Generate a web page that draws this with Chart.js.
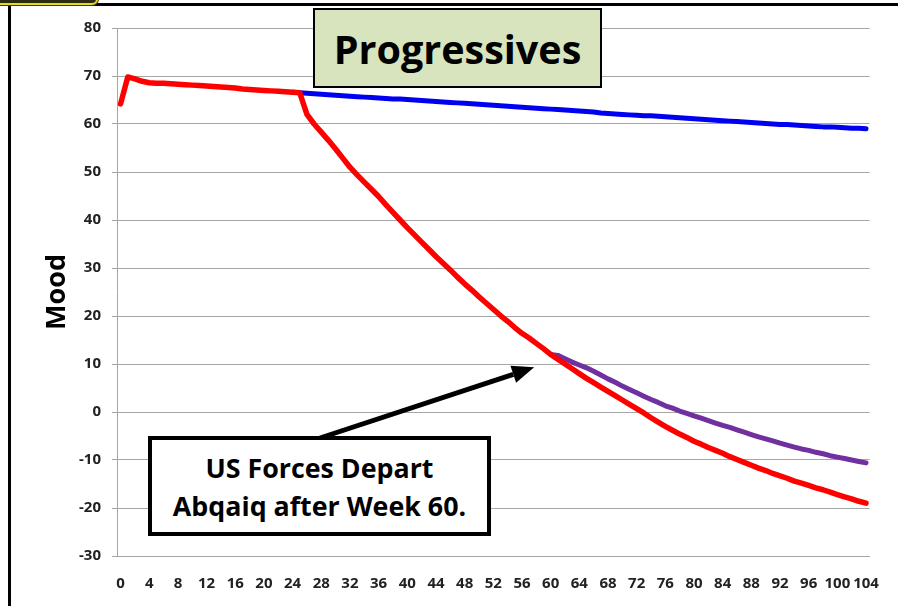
<!DOCTYPE html>
<html>
<head>
<meta charset="utf-8">
<script src="https://cdn.jsdelivr.net/npm/chart.js@4/dist/chart.umd.min.js"></script>
<style>
  html, body { margin: 0; padding: 0; background: #fff; }
  #wrap { position: relative; width: 898px; height: 606px; overflow: hidden; font-family: "Open Sans", Lato, sans-serif; }
  #frame { position: absolute; left: 8px; top: 3px; width: 1000px; height: 1000px; border-left: 3px solid #000; border-top: 3px solid #000; }
  #tab { position: absolute; left: -12px; top: -30px; width: 106px; height: 31px; background: #2b2b12; border: 2px solid #e6da1e; border-radius: 6px; box-shadow: 0 0 0 1px #3a3a20; }
  #chartBox { position: absolute; left: 0; top: 0; width: 898px; height: 606px; }
  #title { position: absolute; left: 313px; top: 8px; width: 285px; height: 75px; background: #d7e4bd; border: 2px solid #000;
           display: flex; align-items: center; justify-content: center; font-weight: 700; font-size: 39.5px; color: #000; padding-top: 1px; box-sizing: content-box; }
  #note { position: absolute; left: 148px; top: 436px; width: 335px; height: 90px; padding-top: 2px; background: #fff; border: 4px solid #000;
          display: flex; flex-direction: column; align-items: center; justify-content: center;
          font-weight: 700; font-size: 26.8px; line-height: 38px; color: #000; text-align: center; }
</style>
</head>
<body>
<div id="wrap">
  <div id="frame"></div>
  <div id="tab"></div>
  <div id="chartBox"><canvas id="c"></canvas></div>
  <div id="title">Progressives</div>
  <div id="note"><div>US Forces Depart</div><div>Abqaiq after Week 60.</div></div>
</div>
<script>
// Weeks 0..104
const weeks = Array.from({ length: 105 }, (_, i) => String(i));

// Mood with US forces staying (blue), weeks 0..104
const moodStay = [
  null, null, null, null, null, null, null, null, null, null,
  null, null, null, null, null, null, null, null, null, null,
  null, null, null, null, 66.6, 66.5, 66.4, 66.3, 66.2, 66.1,
  66.0, 65.9, 65.8, 65.7, 65.6, 65.5, 65.4, 65.3, 65.2, 65.2,
  65.1, 65.0, 64.9, 64.8, 64.7, 64.6, 64.5, 64.4, 64.3, 64.2,
  64.1, 64.0, 63.9, 63.8, 63.7, 63.6, 63.5, 63.4, 63.3, 63.2,
  63.1, 63.0, 62.9, 62.8, 62.7, 62.6, 62.5, 62.3, 62.2, 62.1,
  62.0, 61.9, 61.8, 61.7, 61.7, 61.6, 61.5, 61.4, 61.3, 61.2,
  61.1, 61.0, 60.9, 60.8, 60.7, 60.6, 60.5, 60.4, 60.3, 60.2,
  60.1, 60.0, 59.9, 59.9, 59.8, 59.7, 59.6, 59.5, 59.4, 59.4,
  59.3, 59.2, 59.1, 59.1, 59.0
];

// Mood after the Abqaiq departure (purple), weeks 0..104
const moodDepart = [
  null, null, null, null, null, null, null, null, null, null,
  null, null, null, null, null, null, null, null, null, null,
  null, null, null, null, null, null, null, null, null, null,
  null, null, null, null, null, null, null, null, null, null,
  null, null, null, null, null, null, null, null, null, null,
  null, null, null, null, null, null, null, null, null, null,
  12.0, 11.8, 11.1, 10.4, 9.8, 9.2, 8.5, 7.7, 6.9, 6.2,
  5.4, 4.7, 4.0, 3.3, 2.6, 2.0, 1.3, 0.8, 0.2, -0.3,
  -0.8, -1.3, -1.8, -2.3, -2.8, -3.2, -3.7, -4.2, -4.7, -5.2,
  -5.6, -6.0, -6.5, -6.9, -7.3, -7.7, -8.0, -8.4, -8.7, -9.1,
  -9.4, -9.7, -10.0, -10.3, -10.6
];

// Mood with the week-25 shock (red), weeks 0..104
const moodShock = [
  64.2, 69.8, 69.4, 68.9, 68.6, 68.5, 68.5, 68.4, 68.3, 68.2,
  68.1, 68.0, 67.9, 67.8, 67.7, 67.6, 67.5, 67.3, 67.2, 67.1,
  67.0, 66.9, 66.8, 66.7, 66.6, 66.5, 62.0, 60.0, 58.3, 56.6,
  54.8, 52.9, 51.0, 49.4, 47.9, 46.4, 44.9, 43.2, 41.6, 40.0,
  38.4, 36.9, 35.4, 33.9, 32.4, 31.0, 29.6, 28.1, 26.7, 25.4,
  24.0, 22.7, 21.4, 20.1, 18.9, 17.6, 16.4, 15.4, 14.3, 13.2,
  12.0, 11.0, 10.0, 9.0, 8.0, 7.0, 6.1, 5.2, 4.3, 3.4,
  2.5, 1.6, 0.7, -0.2, -1.2, -2.1, -3.0, -3.8, -4.6, -5.3,
  -6.1, -6.7, -7.4, -8.0, -8.6, -9.3, -9.9, -10.5, -11.1, -11.7,
  -12.2, -12.8, -13.3, -13.8, -14.4, -14.8, -15.3, -15.8, -16.2, -16.7,
  -17.2, -17.7, -18.1, -18.6, -19.0
];

// Where the callout arrow points: [week, mood]
const arrowTip = [57.7, 9.3];

const tickFont = { family: 'Open Sans', weight: 'bold', size: 15 };
const gridGray = '#a6a6a6';

const calloutArrow = {
  id: 'calloutArrow',
  afterDraw(chart) {
    const { ctx, scales: { x, y } } = chart;
    const x0 = 320, y0 = 438;
    const x1 = x.getPixelForValue(arrowTip[0]);
    const y1 = y.getPixelForValue(arrowTip[1]);
    const ang = Math.atan2(y1 - y0, x1 - x0);
    const headLen = 22, headHalf = 9;
    const bx = x1 - headLen * Math.cos(ang), by = y1 - headLen * Math.sin(ang);
    ctx.save();
    ctx.strokeStyle = '#000';
    ctx.fillStyle = '#000';
    ctx.lineWidth = 5;
    ctx.beginPath();
    ctx.moveTo(x0, y0);
    ctx.lineTo(bx, by);
    ctx.stroke();
    ctx.beginPath();
    ctx.moveTo(x1, y1);
    ctx.lineTo(bx + headHalf * Math.sin(ang), by - headHalf * Math.cos(ang));
    ctx.lineTo(bx - headHalf * Math.sin(ang), by + headHalf * Math.cos(ang));
    ctx.closePath();
    ctx.fill();
    ctx.restore();
  }
};

new Chart(document.getElementById('c'), {
  type: 'line',
  data: {
    labels: weeks,
    datasets: [
      { data: moodShock, borderColor: '#ff0000', borderWidth: 5.5 },
      { data: moodDepart, borderColor: '#7030a0', borderWidth: 5 },
      { data: moodStay, borderColor: '#0000f0', borderWidth: 5 }
    ]
  },
  options: {
    responsive: true,
    maintainAspectRatio: false,
    animation: false,
    layout: { padding: { left: 0, right: 24, top: 28, bottom: 0 } },
    elements: {
      point: { radius: 0 },
      line: { tension: 0, borderJoinStyle: 'round', borderCapStyle: 'round', fill: false }
    },
    plugins: { legend: { display: false }, tooltip: { enabled: false } },
    scales: {
      x: {
        type: 'category',
        offset: true,
        grid: { display: false, drawTicks: false },
        border: { display: true, color: gridGray, width: 1 },
        ticks: {
          autoSkip: false,
          maxRotation: 0,
          padding: 19,
          color: '#222',
          font: tickFont,
          callback: (v, i) => (i % 4 === 0 ? weeks[i] : '')
        },
        afterFit: (s) => { s.height = 50; }
      },
      y: {
        min: -30,
        max: 80,
        ticks: { stepSize: 10, padding: 11, color: '#222', font: tickFont },
        grid: { color: gridGray, lineWidth: 1, tickLength: 5, drawTicks: true },
        border: { display: true, color: gridGray, width: 1 },
        title: { display: true, text: 'Mood', color: '#000', font: { family: 'Open Sans', weight: 'bold', size: 27 }, padding: { top: 41, bottom: 0 } },
        afterFit: (s) => { s.width = 117; }
      }
    }
  },
  plugins: [calloutArrow]
});
</script>
</body>
</html>
